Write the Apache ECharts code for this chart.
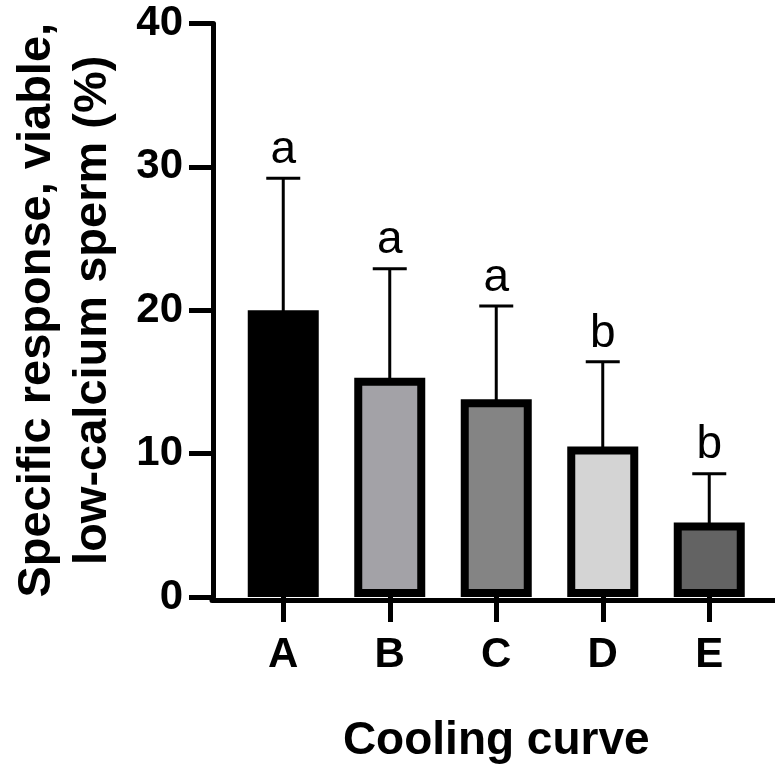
<!DOCTYPE html>
<html>
<head>
<meta charset="utf-8">
<script src="https://cdn.jsdelivr.net/npm/echarts@6/dist/echarts.min.js"></script>
<style>
html,body{margin:0;padding:0;background:#fff;}
#chart{width:775px;height:769px;}
</style>
</head>
<body>
<div id="chart"></div>
<script>
const categories = ['A', 'B', 'C', 'D', 'E'];
const means = [20.0, 15.3, 13.8, 10.5, 5.2];
const sds = [9.2, 7.6, 6.5, 5.9, 3.4];
const letters = ['a', 'a', 'a', 'b', 'b'];
const barColors = ['#000000', '#a3a2a7', '#848484', '#d4d4d4', '#636363'];
const yTicks = [0, 10, 20, 30, 40];

const FONT = '"Liberation Sans", Arial, Helvetica, sans-serif';

const chart = echarts.init(document.getElementById('chart'), null, {renderer: 'canvas'});

const barData = means.map((v, i) => ({
  value: v,
  itemStyle: {color: barColors[i], borderColor: '#000', borderWidth: 8}
}));
const errData = means.map((v, i) => [i, v, v + sds[i]]);

const option = {
  animation: false,
  backgroundColor: '#fff',
  grid: [
    {left: 230, right: 12.5, top: 23.5, bottom: 169},
    {left: 212, right: 0, top: 23.5, bottom: 169}
  ],
  xAxis: [
    {
      type: 'category', gridIndex: 0, data: categories,
      axisLine: {show: false},
      axisTick: {show: true, alignWithLabel: true, length: 25, lineStyle: {color: '#000', width: 5}},
      axisLabel: {color: '#000', fontFamily: FONT, fontWeight: 'bold', fontSize: 42, margin: 37},
      name: 'Cooling curve', nameLocation: 'middle', nameGap: 121,
      nameTextStyle: {color: '#000', fontFamily: FONT, fontWeight: 'bold', fontSize: 46}
    },
    {
      type: 'value', gridIndex: 1, min: 0, max: 1,
      axisLine: {show: true, lineStyle: {color: '#000', width: 5}},
      axisTick: {show: false}, axisLabel: {show: false}, splitLine: {show: false}
    }
  ],
  yAxis: [
    {
      type: 'value', gridIndex: 0, min: yTicks[0], max: yTicks[yTicks.length - 1], interval: 10,
      offset: 17,
      axisLine: {show: true, lineStyle: {color: '#000', width: 5}},
      axisTick: {show: true, length: 24, lineStyle: {color: '#000', width: 5}},
      axisLabel: {color: '#000', fontFamily: FONT, fontWeight: 'bold', fontSize: 42, margin: 30},
      splitLine: {show: false},
      name: 'Specific response, viable,\nlow-calcium sperm (%)',
      nameLocation: 'middle', nameRotate: 90, nameGap: 92,
      nameTextStyle: {color: '#000', fontFamily: FONT, fontWeight: 'bold', fontSize: 47, lineHeight: 56, align: 'center'}
    },
    {type: 'value', gridIndex: 1, min: 0, max: 1, show: false}
  ],
  series: [
    {
      type: 'bar', xAxisIndex: 0, yAxisIndex: 0, data: barData, barWidth: 71, z: 2
    },
    {
      type: 'custom', xAxisIndex: 0, yAxisIndex: 0, data: errData, z: 3,
      encode: {x: 0, y: [1, 2]},
      renderItem: function (params, api) {
        const i = api.value(0);
        const base = api.coord([i, api.value(1)]);
        const top = api.coord([i, api.value(2)]);
        const hw = 17;
        return {
          type: 'group',
          children: [
            {type: 'line', shape: {x1: base[0], y1: base[1] + 2, x2: top[0], y2: top[1]}, style: {stroke: '#000', lineWidth: 3}},
            {type: 'line', shape: {x1: top[0] - hw, y1: top[1], x2: top[0] + hw, y2: top[1]}, style: {stroke: '#000', lineWidth: 3}},
            {type: 'text', x: top[0], y: top[1] - 5, style: {text: letters[params.dataIndex], fill: '#000', fontFamily: FONT, fontSize: 46, align: 'center', verticalAlign: 'bottom'}}
          ]
        };
      }
    }
  ]
};
chart.setOption(option);
</script>
</body>
</html>
